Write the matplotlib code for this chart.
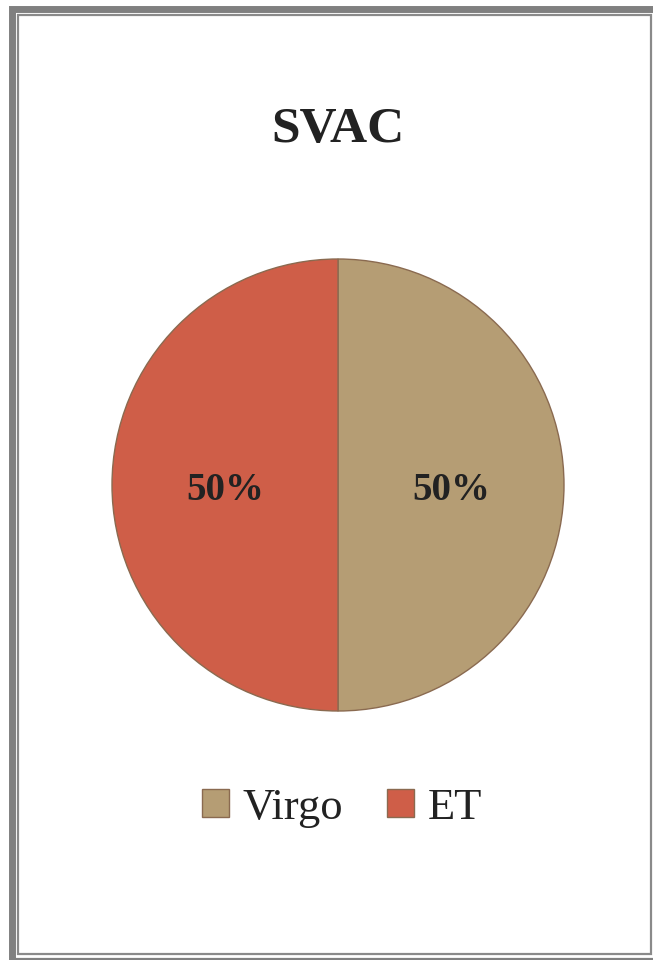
import matplotlib.pyplot as plt
from matplotlib.patches import Rectangle

# data
labels = ["Virgo", "ET"]
values = [50, 50]
colors = ["#B59D74", "#CF5E48"]
title = "SVAC"

W, H = 653, 960
fig = plt.figure(figsize=(W / 100, H / 100), dpi=100)
fig.patch.set_facecolor("white")

def px(x, y):
    return x / W, 1 - y / H

# double frame
x0, y0 = px(11.5, 8.5)
fig.patches.append(Rectangle((x0, -0.01), 1.1, y0 + 0.01, transform=fig.transFigure,
                             fill=False, edgecolor="#808080", linewidth=5.0))
x1, y1 = px(18, 15)
x2, y2 = px(651, 954)
fig.patches.append(Rectangle((x1, y2), x2 - x1, y1 - y2, transform=fig.transFigure,
                             fill=False, edgecolor="#8a8a8a", linewidth=1.6))
x3, y3 = px(11.5, 959)
fig.patches.append(Rectangle((x3, -0.05), 1.1, y3 + 0.05, transform=fig.transFigure,
                             fill=False, edgecolor="#808080", linewidth=1.6))

fig.text(338 / W, 1 - 130 / H, title, ha="center", va="center",
         fontsize=37, fontweight="bold", family="Liberation Serif", color="#222222")

cx, cy, r = 338, 485, 226
ax = fig.add_axes([(cx - r) / W, 1 - (cy + r) / H, 2 * r / W, 2 * r / H])
wedges, texts, autotexts = ax.pie(
    values, colors=colors, startangle=90, counterclock=False,
    autopct="%d%%", pctdistance=0.5,
    wedgeprops=dict(edgecolor="#8a6a50", linewidth=1.0),
    textprops=dict(fontsize=28, fontweight="bold", family="Liberation Serif", color="#222222"))
for t in autotexts:
    x, y = t.get_position()
    t.set_position((x, y - 0.025))
ax.set_xlim(-1, 1)
ax.set_ylim(-1, 1)
ax.set_aspect("equal")

leg = fig.legend(wedges, labels, loc="center", bbox_to_anchor=(342 / W, 1 - 808 / H),
                 ncol=2, frameon=False, handlelength=0.6, handleheight=0.6,
                 handletextpad=0.3, columnspacing=1.0,
                 prop=dict(family="Liberation Serif", size=32))
for t in leg.get_texts():
    t.set_color("#222222")

plt.savefig("out.png", dpi=100)
